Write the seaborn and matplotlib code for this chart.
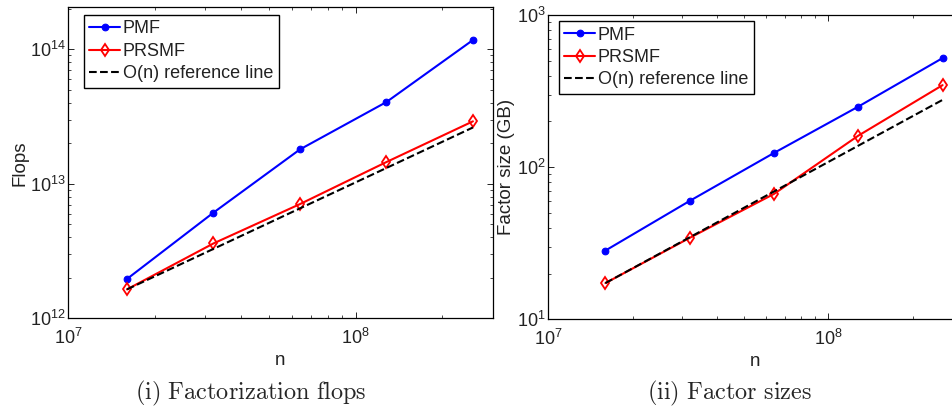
import numpy as np
import pandas as pd
import seaborn as sns
import matplotlib
matplotlib.use('Agg')
import matplotlib.pyplot as plt
from matplotlib.ticker import LogLocator, NullFormatter

# problem sizes
n = [1.6e7, 3.2e7, 6.4e7, 1.28e8, 2.56e8]

# (i) factorization flops
flops_pmf = [1.96e12, 6.1e12, 1.8e13, 4.05e13, 1.17e14]
flops_prsmf = [1.64e12, 3.6e12, 7.06e12, 1.45e13, 2.91e13]
flops_ref = [1.64e12, 3.28e12, 6.56e12, 1.31e13, 2.62e13]

# (ii) factor sizes in GB
size_pmf = [28.3, 60, 124, 250, 521]
size_prsmf = [17.3, 34.3, 66.7, 161, 346]
size_ref = [17.3, 34.6, 69.2, 138.4, 276.8]

labels = ['PMF', 'PRSMF', 'O(n) reference line']

sns.set_style('ticks')
plt.rcParams['font.family'] = ['Liberation Sans', 'DejaVu Sans']
plt.rcParams['mathtext.default'] = 'regular'
plt.rcParams['font.size'] = 13
plt.rcParams['xtick.direction'] = 'in'
plt.rcParams['ytick.direction'] = 'in'
plt.rcParams['xtick.top'] = True
plt.rcParams['ytick.right'] = True
plt.rcParams['xtick.major.size'] = 4
plt.rcParams['ytick.major.size'] = 4
plt.rcParams['xtick.minor.size'] = 2.2
plt.rcParams['ytick.minor.size'] = 2.2
plt.rcParams['xtick.major.width'] = 0.6
plt.rcParams['ytick.major.width'] = 0.6
plt.rcParams['xtick.minor.width'] = 0.5
plt.rcParams['ytick.minor.width'] = 0.5
plt.rcParams['axes.linewidth'] = 0.9
plt.rcParams['axes.edgecolor'] = 'black'

fig = plt.figure(figsize=(9.53, 4.09), dpi=100)
ax1 = fig.add_axes([0.0717, 0.2218, 0.4453, 0.7604])
ax2 = fig.add_axes([0.5753, 0.2193, 0.434, 0.744])


def draw(ax, pmf, prsmf, ref, ylim, ylabel, leg_anchor):
    sns.lineplot(x=n, y=pmf, ax=ax, color='blue', marker='o', markersize=4.8,
                 markeredgewidth=0.8, markeredgecolor='blue', linewidth=1.5, label=labels[0])
    sns.lineplot(x=n, y=prsmf, ax=ax, color='red', marker='d', markersize=6.5,
                 markerfacecolor='none', markeredgecolor='red', markeredgewidth=1.3,
                 linewidth=1.5, label=labels[1])
    sns.lineplot(x=n, y=ref, ax=ax, color='black', linestyle='--', linewidth=1.5,
                 label=labels[2])
    ax.set_xscale('log')
    ax.set_yscale('log')
    ax.set_xlim(1e7, 3e8)
    ax.set_ylim(*ylim)
    ax.xaxis.set_minor_locator(LogLocator(base=10, subs=np.arange(2, 10)))
    ax.yaxis.set_minor_locator(LogLocator(base=10, subs=np.arange(2, 10)))
    ax.xaxis.set_minor_formatter(NullFormatter())
    ax.yaxis.set_minor_formatter(NullFormatter())
    ax.tick_params(which='both', colors='black', labelcolor='#222222', labelsize=13)
    ax.tick_params(axis='x', pad=7)
    ax.tick_params(axis='y', pad=2)
    ax.set_xlabel('n', fontsize=13.5, color='#222222', labelpad=3)
    ax.set_ylabel(ylabel, fontsize=13.5, color='#222222', labelpad=1)
    leg = ax.legend(loc='upper left', bbox_to_anchor=leg_anchor, borderaxespad=0,
                    frameon=True, fancybox=False, framealpha=1, edgecolor='black',
                    fontsize=13, handlelength=1.7, handletextpad=0.15,
                    labelspacing=0.3, borderpad=0.3)
    leg.get_frame().set_linewidth(1.0)
    for t in leg.get_texts():
        t.set_color('#222222')


draw(ax1, flops_pmf, flops_prsmf, flops_ref, (1e12, 2.05e14), 'Flops', (0.037, 0.975))
draw(ax2, size_pmf, size_prsmf, size_ref, (10, 1000), 'Factor size (GB)', (0.026, 0.980))

fig.text(0.263, 0.037, r'$\mathrm{(i)\ Factorization\ flops}$', ha='center', va='center',
         fontsize=17.5, math_fontfamily='cm')
fig.text(0.765, 0.037, r'$\mathrm{(ii)\ Factor\ sizes}$', ha='center', va='center',
         fontsize=17.5, math_fontfamily='cm')

fig.savefig('out.png', dpi=100)
